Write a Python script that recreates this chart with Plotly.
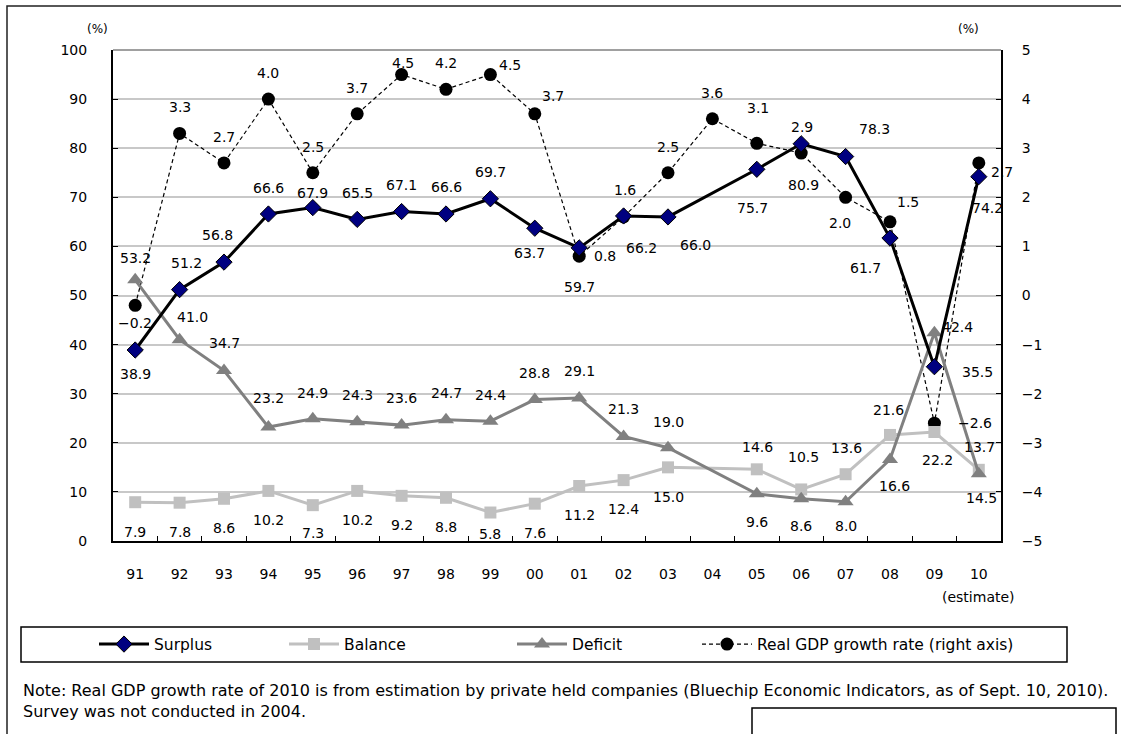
import plotly.graph_objects as go

years = ["91", "92", "93", "94", "95", "96", "97", "98", "99", "00",
         "01", "02", "03", "04", "05", "06", "07", "08", "09", "10"]

surplus = [38.9, 51.2, 56.8, 66.6, 67.9, 65.5, 67.1, 66.6, 69.7, 63.7,
           59.7, 66.2, 66.0, None, 75.7, 80.9, 78.3, 61.7, 35.5, 74.2]
balance = [7.9, 7.8, 8.6, 10.2, 7.3, 10.2, 9.2, 8.8, 5.8, 7.6,
           11.2, 12.4, 15.0, None, 14.6, 10.5, 13.6, 21.6, 22.2, 14.5]
deficit = [53.2, 41.0, 34.7, 23.2, 24.9, 24.3, 23.6, 24.7, 24.4, 28.8,
           29.1, 21.3, 19.0, None, 9.6, 8.6, 8.0, 16.6, 42.4, 13.7]
gdp = [-0.2, 3.3, 2.7, 4.0, 2.5, 3.7, 4.5, 4.2, 4.5, 3.7,
       0.8, 1.6, 2.5, 3.6, 3.1, 2.9, 2.0, 1.5, -2.6, 2.7]

# label offsets in pixels (dx right, dy down) - styling only
surplus_off = [(0, 24), (7, -27), (-7, -27), (0, -26), (0, -15), (0, -26), (0, -27), (0, -27), (0, -27), (-5, 25),
               (0, 39), (18, 32), (27, 28), None, (-4, 39), (2, 41), (29, -28), (-25, 30), (43, 5), (9, 31)]
balance_off = [(0, 30), (0, 29), (0, 29), (0, 29), (0, 28), (0, 29), (0, 29), (0, 29), (0, 21), (0, 29),
               (0, 29), (0, 29), (0, 30), None, (1, -22), (2, -32), (1, -26), (-2, -25), (3, 28), (3, 28)]
deficit_off = [(0, -22), (13, -23), (0, -28), (0, -29), (0, -26), (0, -27), (0, -27), (0, -27), (0, -26), (0, -27),
               (0, -27), (0, -27), (0, -26), None, (0, 28), (0, 27), (0, 24), (4, 27), (23, -6), (1, -27)]
gdp_off = [(0, 18), (0, -26), (0, -26), (0, -26), (0, -26), (0, -26), (1, -12), (0, -26), (20, -10), (18, -18),
           (26, 0), (1, -27), (0, -26), (0, -26), (1, -35), (1, -26), (-6, 26), (18, -20), (41, 0), (23, 9)]

FONT = "DejaVu Sans"

# plot area: x 113..1001, y 50..541
def px(xp):
    return (xp - 113) / 888.0

def py(yp):
    return (541 - yp) / 491.0

fig = go.Figure()

fig.add_trace(go.Scatter(
    x=years, y=gdp, name="Real GDP growth rate (right axis)", yaxis="y", legend="legend4",
    mode="lines+markers",
    line=dict(color="black", width=1.2, dash="4px,3px"),
    marker=dict(symbol="circle", size=13, color="black"),
))
fig.add_trace(go.Scatter(
    x=years, y=balance, name="Balance", yaxis="y2", connectgaps=True, legend="legend2",
    mode="lines+markers",
    line=dict(color="#c0c0c0", width=3),
    marker=dict(symbol="square", size=12, color="#c0c0c0"),
))
fig.add_trace(go.Scatter(
    x=years, y=deficit, name="Deficit", yaxis="y2", connectgaps=True, legend="legend3",
    mode="lines+markers",
    line=dict(color="#808080", width=3),
    marker=dict(symbol="triangle-up", size=14, color="#808080"),
))
fig.add_trace(go.Scatter(
    x=years, y=surplus, name="Surplus", yaxis="y2", connectgaps=True, legend="legend",
    mode="lines+markers",
    line=dict(color="black", width=3),
    marker=dict(symbol="diamond", size=12.5, color="#000080",
                line=dict(color="black", width=1)),
))

def fmt(v):
    return f"{v:.1f}".replace("-", "\u2212")

annotations = []
for vals, offs, yref in ((surplus, surplus_off, "y2"), (balance, balance_off, "y2"),
                         (deficit, deficit_off, "y2"), (gdp, gdp_off, "y")):
    for i, (v, o) in enumerate(zip(vals, offs)):
        if v is None:
            continue
        annotations.append(dict(
            x=i, y=v, xref="x", yref=yref, text=fmt(v), showarrow=False,
            xshift=o[0], yshift=-o[1], xanchor="center", yanchor="middle",
            font=dict(family=FONT, size=14, color="black"),
        ))

annotations += [
    dict(x=px(97), y=py(29), xref="paper", yref="paper", text="(%)", showarrow=False,
         xanchor="center", yanchor="middle", font=dict(family=FONT, size=12, color="black")),
    dict(x=px(968), y=py(29), xref="paper", yref="paper", text="(%)", showarrow=False,
         xanchor="center", yanchor="middle", font=dict(family=FONT, size=12, color="black")),
    dict(x=len(years) - 1, y=py(597), xref="x", yref="paper", text="(estimate)", showarrow=False,
         xanchor="center", yanchor="middle", font=dict(family=FONT, size=14, color="black")),
    dict(x=px(21), y=py(690), xref="paper", yref="paper",
         text="Note: Real GDP growth rate of 2010 is from estimation by private held companies (Bluechip Economic Indicators, as of Sept. 10, 2010).",
         showarrow=False, xanchor="left", yanchor="middle", font=dict(family=FONT, size=16, color="black")),
    dict(x=px(21), y=py(711), xref="paper", yref="paper",
         text="Survey was not conducted in 2004.",
         showarrow=False, xanchor="left", yanchor="middle", font=dict(family=FONT, size=16, color="black")),
]

shapes = [
    # outer frame
    dict(type="rect", xref="paper", yref="paper", x0=px(7), x1=px(1130), y0=py(6), y1=py(745),
         line=dict(color="#202020", width=1.5)),
    # legend frame
    dict(type="rect", xref="paper", yref="paper", x0=px(21), x1=px(1067), y0=py(627), y1=py(662),
         line=dict(color="black", width=1.5)),
    # bottom-right box
    dict(type="rect", xref="paper", yref="paper", x0=px(752), x1=px(1116), y0=py(708), y1=py(745),
         line=dict(color="black", width=1.5)),
    # top edge of plot area
    dict(type="line", xref="paper", yref="paper", x0=0, x1=1, y0=1, y1=1,
         line=dict(color="#808080", width=1.5)),
]

def leg(xpix):
    return dict(orientation="h", x=px(xpix), y=py(644.5), xanchor="left", yanchor="middle",
                itemwidth=50, font=dict(family=FONT, size=15.5, color="black"),
                bgcolor="rgba(0,0,0,0)", borderwidth=0)

fig.update_layout(
    width=1121, height=734,
    margin=dict(l=113, r=120, t=50, b=193, pad=0),
    paper_bgcolor="white", plot_bgcolor="white",
    font=dict(family=FONT, size=14, color="black"),
    showlegend=True,
    legend=leg(94),
    legend2=leg(284),
    legend3=leg(512),
    legend4=leg(697),
    xaxis=dict(type="category", categoryorder="array", categoryarray=years,
               range=[-0.5, len(years) - 0.5],
               showline=True, linecolor="black", linewidth=2,
               ticks="inside", tickson="boundaries", ticklen=5, tickcolor="black", tickwidth=1,
               showgrid=False, ticklabelstandoff=19, tickfont=dict(size=14)),
    yaxis=dict(side="right", range=[-5, 5], dtick=1, tick0=-5,
               showline=True, linecolor="black", linewidth=2,
               ticks="inside", ticklen=5, tickcolor="black",
               showgrid=True, gridcolor="#c8c8c8", gridwidth=1.5, zeroline=False,
               ticklabelstandoff=16, tickfont=dict(size=14)),
    yaxis2=dict(side="left", overlaying="y", range=[0, 100], dtick=10, tick0=0,
                showline=True, linecolor="black", linewidth=2,
                ticks="inside", ticklen=5, tickcolor="black",
                showgrid=False, zeroline=False,
                ticklabelstandoff=21, tickfont=dict(size=14)),
    annotations=annotations,
    shapes=shapes,
)

fig.write_html("out.html", config={"displayModeBar": False},
               post_script="document.body.style.margin='0';")
